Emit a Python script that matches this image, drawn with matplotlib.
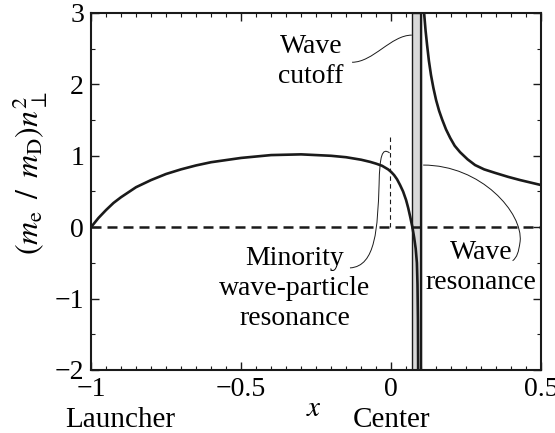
import matplotlib
matplotlib.use('Agg')
import matplotlib.pyplot as plt
from matplotlib.path import Path
from matplotlib.patches import PathPatch
from matplotlib.ticker import MultipleLocator

plt.rcParams['font.family'] = 'serif'
plt.rcParams['font.serif'] = ['Liberation Serif']
plt.rcParams['mathtext.fontset'] = 'stix'

# branch between launcher and cutoff / resonance (left side)
x_left = [-1.0, -0.975, -0.95, -0.925, -0.9, -0.85, -0.8, -0.75, -0.7, -0.65,
          -0.6, -0.5, -0.4, -0.3, -0.2, -0.15, -0.1, -0.07, -0.05, -0.03,
          -0.01, 0.0, 0.01, 0.02, 0.03, 0.04, 0.05, 0.057, 0.064, 0.071,
          0.077, 0.082, 0.086, 0.088, 0.0895, 0.0905]
n2_left = [0.0, 0.13, 0.24, 0.34, 0.42, 0.56, 0.66, 0.745, 0.81, 0.865,
           0.91, 0.97, 1.01, 1.02, 1.0, 0.98, 0.945, 0.915, 0.89, 0.86,
           0.81, 0.775, 0.73, 0.67, 0.59, 0.5, 0.38, 0.27, 0.14, 0.0,
           -0.15, -0.3, -0.5, -0.8, -1.3, -2.3]

# branch on the far side of the resonance
x_right = [0.1085, 0.11, 0.115, 0.12, 0.126, 0.133, 0.141, 0.15, 0.16, 0.17,
           0.183, 0.197, 0.212, 0.23, 0.255, 0.28, 0.31, 0.347, 0.39, 0.43,
           0.465, 0.5]
n2_right = [3.3, 3.0, 2.75, 2.55, 2.33, 2.13, 1.95, 1.78, 1.63, 1.51,
            1.37, 1.25, 1.14, 1.05, 0.95, 0.87, 0.81, 0.76, 0.705, 0.66,
            0.625, 0.59]

x_cutoff = 0.069
x_res = 0.1
x_minority = -0.005
n2_minority_top = 1.27

fig = plt.figure(figsize=(5.55, 4.33), dpi=100)
ax = fig.add_axes([0.164, 0.1455, 0.811, 0.8245])

ink = '#1a1a1a'
ax.axvspan(x_cutoff, x_res, facecolor='#d9d9d9', edgecolor=ink, lw=1.0, zorder=1)
ax.axvline(x_res, color=ink, lw=1.6, zorder=3)
ax.axhline(0, color=ink, lw=1.8, ls=(0, (4, 2.4)), zorder=2)
ax.plot([x_minority, x_minority], [0, n2_minority_top], color=ink, lw=0.8,
        ls=(0, (4, 3)), zorder=2)

ax.plot(x_left, n2_left, color=ink, lw=1.9, zorder=4)
ax.plot(x_right, n2_right, color=ink, lw=1.9, zorder=4)

ax.set_xlim(-1, 0.5)
ax.set_ylim(-2, 3)
ax.xaxis.set_major_locator(MultipleLocator(0.5))
ax.xaxis.set_minor_locator(MultipleLocator(0.05))
ax.yaxis.set_major_locator(MultipleLocator(1))
ax.yaxis.set_minor_locator(MultipleLocator(0.5))
ax.xaxis.set_major_formatter(plt.FuncFormatter(
    lambda v, p: ('%g' % v).replace('-', '\u2212')))
ax.yaxis.set_major_formatter(plt.FuncFormatter(
    lambda v, p: ('%g' % v).replace('-', '\u2212')))
ax.tick_params(which='both', direction='in', top=True, right=True,
               labelsize=20, color=ink)
ax.tick_params(which='major', length=6, width=1.0, pad=5)
ax.tick_params(which='minor', length=3, width=0.8)
for s in ax.spines.values():
    s.set_linewidth(1.5)
    s.set_color(ink)

fig.text(0.054, 0.6, r'$(m_{\mathrm{e}}\ \,/\ \,m_{\mathrm{D}})n_{\perp}^{2}$',
         rotation=90, ha='center', va='center', fontsize=23)
ax.text(-0.257, -2.64, r'$x$', ha='center', va='baseline', fontsize=21)
ax.text(-0.903, -2.8, 'Launcher', ha='center', va='baseline', fontsize=21)
ax.text(0.0, -2.8, 'Center', ha='center', va='baseline', fontsize=21)


def leader(*pts):
    codes = [Path.MOVETO] + [Path.CURVE4] * (len(pts) - 1)
    ax.add_patch(PathPatch(Path(pts, codes), fc='none', ec=ink, lw=0.7,
                           zorder=5))


ax.text(-0.267, 2.32, 'Wave\ncutoff', ha='center', va='center', fontsize=20,
        linespacing=1.25)
leader((-0.13, 2.31), (-0.06, 2.31), (0.0, 2.69), (x_cutoff, 2.69))

ax.text(-0.32, -0.86, 'Minority\nwave-particle\nresonance', ha='center',
        va='center', fontsize=20, linespacing=1.25)
leader((-0.137, -0.57), (-0.05, -0.55), (-0.045, 0.0), (-0.04, 0.6),
       (-0.038, 1.0), (-0.03, 1.12), (x_minority, 1.04))

ax.text(0.3, -0.56, 'Wave\nresonance', ha='center', va='center',
        fontsize=20, linespacing=1.25)
leader((x_res + 0.007, 0.87), (0.3, 0.87), (0.44, 0.2), (0.43, -0.2),
       (0.425, -0.35), (0.42, -0.42), (0.405, -0.47))

fig.savefig('out.png', dpi=100)
